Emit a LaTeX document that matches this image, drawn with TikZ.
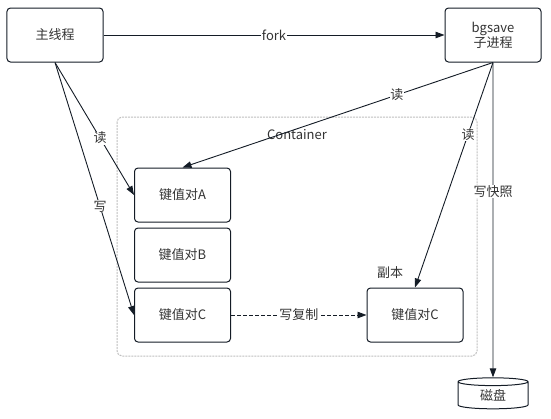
\documentclass[tikz,border=0pt]{standalone}
\usepackage{fontspec}
\setmainfont{Noto Sans CJK SC}
\usetikzlibrary{arrows.meta,shapes.geometric}
\definecolor{inkline}{HTML}{141C26}
\definecolor{inktext}{HTML}{333333}
\definecolor{groupline}{HTML}{BEBEBE}
\tikzset{
    every node/.style={font=\fontsize{13bp}{15bp}\selectfont,text=inktext},
    boxnode/.style={draw=inkline,line width=1bp,rounded corners=3.5bp,
        minimum width=96bp,minimum height=54bp,inner sep=0pt,align=center},
    linknode/.style={fill=white,inner sep=0.5bp},
    link/.style={draw=inkline,line width=0.9bp,
        -{Triangle[length=9bp,width=6.5bp]}},
}
\begin{document}
\begin{tikzpicture}[x=1bp,y=-1bp]
    \useasboundingbox (0,0) rectangle (551,418);

    % container
    \draw [groupline,line width=1bp,rounded corners=5bp,dash pattern=on 2bp off 1bp]
        (117,117) rectangle (477,356);
    \node (title) at (297,135) {Container};
    \node (copytitle) at (390,273) {副本};

    % boxes
    \node [boxnode] (main) at (55,35) {主线程};
    \node [boxnode] (bgsave) at (493,35) {bgsave\\子进程};
    \node [boxnode] (pairA) at (182.5,195) {键值对A};
    \node [boxnode] (pairB) at (182.5,255) {键值对B};
    \node [boxnode] (pairC) at (182.5,315) {键值对C};
    \node [boxnode] (copyC) at (415,315) {键值对C};
    \node [draw=inkline,line width=1bp,cylinder,shape border rotate=90,
        shape aspect=0.3,minimum width=70bp,minimum height=31bp,inner sep=0pt]
        (disk) at (493,395.5) {\raisebox{-4bp}{磁盘}};

    % links
    \draw [link] (main) -- node [linknode] {fork} (bgsave);
    \draw [link] (main.south) -- node [linknode,pos=0.57] {读} (pairA.west);
    \draw [link] (main.south) -- node [linknode,pos=0.57] {写} (pairC.west);
    \draw [link] (bgsave.south) -- node [linknode,pos=0.31] {读} (pairA.north);
    \draw [link] (bgsave.south) -- node [linknode,pos=0.32] {读} (copyC.north);
    \draw [link] (bgsave.south) -- node [linknode,pos=0.41] {写快照} (disk.north);
    \draw [link,dash pattern=on 4bp off 2bp] (pairC) -- node [linknode] {写复制} (copyC);
\end{tikzpicture}
\end{document}
